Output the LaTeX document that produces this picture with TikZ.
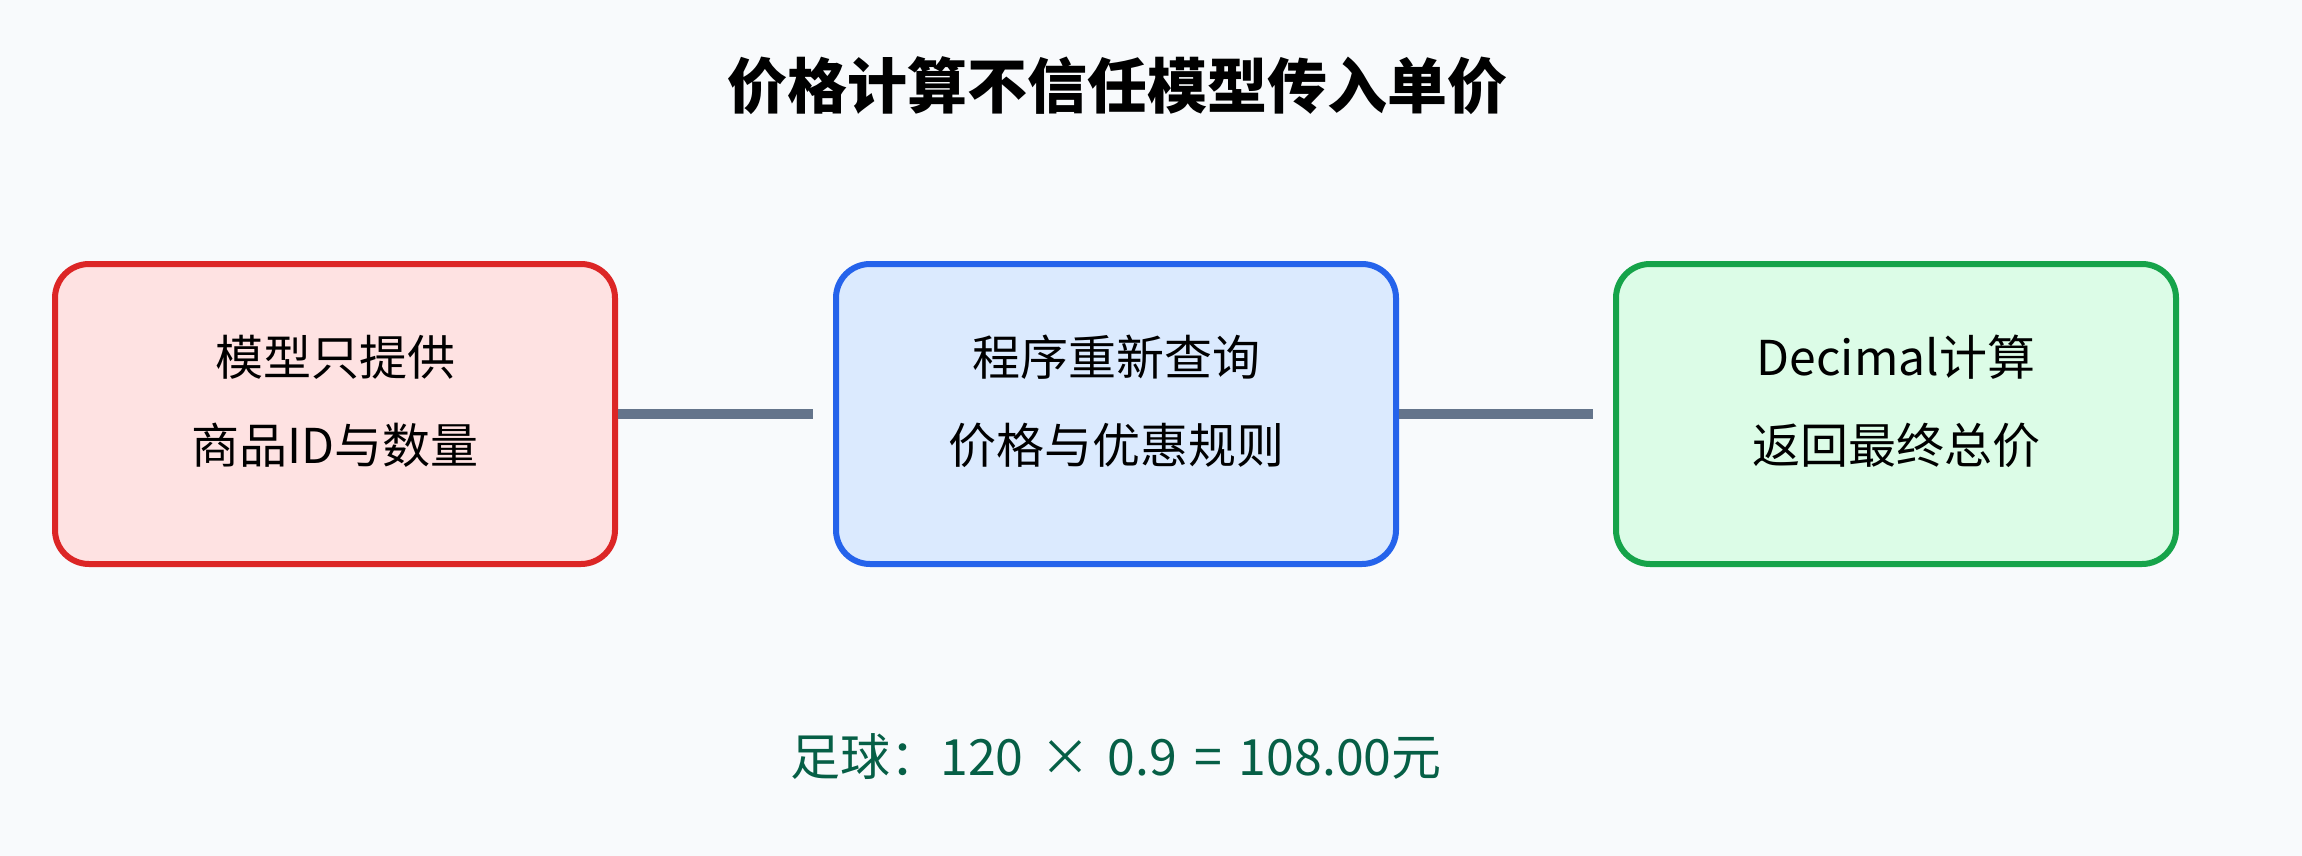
\documentclass[tikz,border=0pt]{standalone}
\usepackage{fontspec}
\setmainfont{Noto Sans CJK SC}
\usepackage{tikz}
\definecolor{bgcol}{HTML}{F8FAFC}
\definecolor{redline}{HTML}{DC2626}
\definecolor{redfill}{HTML}{FEE2E2}
\definecolor{blueline}{HTML}{2563EB}
\definecolor{bluefill}{HTML}{DBEAFE}
\definecolor{greenline}{HTML}{16A34A}
\definecolor{greenfill}{HTML}{DCFCE7}
\definecolor{linkcol}{HTML}{64748B}
\definecolor{notecol}{HTML}{065F46}
\newcommand{\gap}{\hspace{8.5pt}}
\tikzset{
	stagebox/.style={draw, rounded corners=17pt, line width=3pt, minimum width=280pt, minimum height=150pt, inner sep=0pt},
	stagetext/.style={font=\fontsize{24}{28}\selectfont, inner sep=0pt},
	link/.style={draw=linkcol, line width=5pt}
}

\begin{document}
\begin{tikzpicture}[x=0.5pt, y=-0.5pt]
		%%%%% START %%%%%
		\fill[bgcol] (0, 0) rectangle (2302, 856);
		\useasboundingbox (0, 0) rectangle (2302, 856);
		
		\node[font=\fontsize{30}{34}\selectfont\bfseries, inner sep=0pt] (title) at (1117, 86) {价格计算不信任模型传入单价};
		
		\node[stagebox, draw=redline, fill=redfill] (model) at (335, 414) {};
		\node[stagebox, draw=blueline, fill=bluefill] (query) at (1116, 414) {};
		\node[stagebox, draw=greenline, fill=greenfill] (calc) at (1896, 414) {};
		
		\node[stagetext] (modelA) at (335, 357) {模型只提供};
		\node[stagetext] (modelB) at (335, 445) {商品ID与数量};
		\node[stagetext] (queryA) at (1116, 357) {程序重新查询};
		\node[stagetext] (queryB) at (1116, 445) {价格与优惠规则};
		\node[stagetext] (calcA) at (1896, 357) {Decimal计算};
		\node[stagetext] (calcB) at (1896, 445) {返回最终总价};
		
		\draw[link] (model.east) -- ([xshift=-10pt]query.west);
		\draw[link] (query.east) -- ([xshift=-10pt]calc.west);
		
		\node[stagetext, font=\fontsize{25}{29}\selectfont, text=notecol] (note) at (1116, 757) {足球：120\gap×\gap0.9\gap=\gap108.00元};
		%%%%% END %%%%%
\end{tikzpicture}
\end{document}
